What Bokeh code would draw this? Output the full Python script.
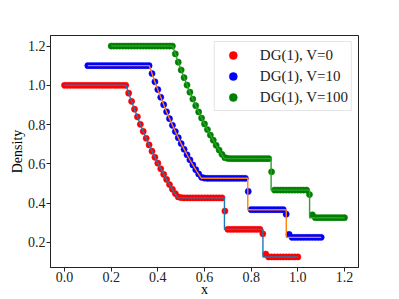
from bokeh.plotting import figure
from bokeh.models import FixedTicker, Legend, LegendItem, Range1d
from bokeh.embed import file_html
from bokeh.resources import INLINE

# ---- numerical solution points (DG(1)) ----
x_v0 = [0.0, 0.0125, 0.025, 0.0375, 0.05, 0.0625, 0.075, 0.0875, 0.1,
        0.1125, 0.125, 0.1375, 0.15, 0.1625, 0.175, 0.1875, 0.2, 0.2125,
        0.225, 0.2375, 0.25, 0.2625, 0.275, 0.2875, 0.3, 0.3125, 0.325,
        0.3375, 0.35, 0.3625, 0.375, 0.3875, 0.4, 0.4125, 0.425, 0.4375,
        0.45, 0.4625, 0.475, 0.4875, 0.5, 0.5125, 0.525, 0.5375, 0.55,
        0.5625, 0.575, 0.5875, 0.6, 0.6125, 0.625, 0.6375, 0.65, 0.6625,
        0.675, 0.6875, 0.7, 0.7125, 0.725, 0.7375, 0.75, 0.7625, 0.775,
        0.7875, 0.8, 0.8125, 0.825, 0.8375, 0.85, 0.8625, 0.875, 0.8875,
        0.9, 0.9125, 0.925, 0.9375, 0.95, 0.9625, 0.975, 0.9875, 1.0]
rho_v0 = [1.0, 1.0, 1.0, 1.0, 1.0, 1.0, 1.0, 1.0, 1.0,
          1.0, 1.0, 1.0, 1.0, 1.0, 1.0, 1.0, 1.0, 1.0,
          1.0, 1.0, 1.0, 1.0, 0.960, 0.918, 0.878, 0.839, 0.801,
          0.765, 0.730, 0.696, 0.664, 0.633, 0.603, 0.574, 0.546, 0.520,
          0.494, 0.470, 0.448, 0.431, 0.427, 0.426, 0.426, 0.426, 0.426,
          0.426, 0.426, 0.426, 0.426, 0.426, 0.426, 0.426, 0.426, 0.426,
          0.426, 0.359, 0.266, 0.266, 0.266, 0.266, 0.266, 0.266, 0.266,
          0.266, 0.266, 0.266, 0.266, 0.266, 0.243, 0.140, 0.125, 0.125,
          0.125, 0.125, 0.125, 0.125, 0.125, 0.125, 0.125, 0.125, 0.125]

x_v10 = [0.1, 0.1125, 0.125, 0.1375, 0.15, 0.1625, 0.175, 0.1875, 0.2,
         0.2125, 0.225, 0.2375, 0.25, 0.2625, 0.275, 0.2875, 0.3, 0.3125,
         0.325, 0.3375, 0.35, 0.3625, 0.375, 0.3875, 0.4, 0.4125, 0.425,
         0.4375, 0.45, 0.4625, 0.475, 0.4875, 0.5, 0.5125, 0.525, 0.5375,
         0.55, 0.5625, 0.575, 0.5875, 0.6, 0.6125, 0.625, 0.6375, 0.65,
         0.6625, 0.675, 0.6875, 0.7, 0.7125, 0.725, 0.7375, 0.75, 0.7625,
         0.775, 0.7875, 0.8, 0.8125, 0.825, 0.8375, 0.85, 0.8625, 0.875,
         0.8875, 0.9, 0.9125, 0.925, 0.9375, 0.95, 0.9625, 0.975, 0.9875,
         1.0, 1.0125, 1.025, 1.0375, 1.05, 1.0625, 1.075, 1.0875, 1.1]
rho_v10 = [1.1, 1.1, 1.1, 1.1, 1.1, 1.1, 1.1, 1.1, 1.1,
           1.1, 1.1, 1.1, 1.1, 1.1, 1.1, 1.1, 1.1, 1.1,
           1.1, 1.1, 1.1, 1.1, 1.060, 1.018, 0.978, 0.939, 0.901,
           0.865, 0.830, 0.796, 0.764, 0.733, 0.703, 0.674, 0.646, 0.620,
           0.594, 0.570, 0.548, 0.531, 0.527, 0.526, 0.526, 0.526, 0.526,
           0.526, 0.526, 0.526, 0.526, 0.526, 0.526, 0.526, 0.526, 0.526,
           0.526, 0.459, 0.366, 0.366, 0.366, 0.366, 0.366, 0.366, 0.366,
           0.366, 0.366, 0.366, 0.366, 0.366, 0.343, 0.240, 0.225, 0.225,
           0.225, 0.225, 0.225, 0.225, 0.225, 0.225, 0.225, 0.225, 0.225]

x_v100 = [0.2, 0.2125, 0.225, 0.2375, 0.25, 0.2625, 0.275, 0.2875, 0.3,
          0.3125, 0.325, 0.3375, 0.35, 0.3625, 0.375, 0.3875, 0.4, 0.4125,
          0.425, 0.4375, 0.45, 0.4625, 0.475, 0.4875, 0.5, 0.5125, 0.525,
          0.5375, 0.55, 0.5625, 0.575, 0.5875, 0.6, 0.6125, 0.625, 0.6375,
          0.65, 0.6625, 0.675, 0.6875, 0.7, 0.7125, 0.725, 0.7375, 0.75,
          0.7625, 0.775, 0.7875, 0.8, 0.8125, 0.825, 0.8375, 0.85, 0.8625,
          0.875, 0.8875, 0.9, 0.9125, 0.925, 0.9375, 0.95, 0.9625, 0.975,
          0.9875, 1.0, 1.0125, 1.025, 1.0375, 1.05, 1.0625, 1.075, 1.0875,
          1.1, 1.1125, 1.125, 1.1375, 1.15, 1.1625, 1.175, 1.1875, 1.2]
rho_v100 = [1.2, 1.2, 1.2, 1.2, 1.2, 1.2, 1.2, 1.2, 1.2,
            1.2, 1.2, 1.2, 1.2, 1.2, 1.2, 1.2, 1.2, 1.2,
            1.2, 1.2, 1.2, 1.2, 1.160, 1.118, 1.078, 1.039, 1.001,
            0.965, 0.930, 0.896, 0.864, 0.833, 0.803, 0.774, 0.746, 0.720,
            0.694, 0.670, 0.648, 0.631, 0.627, 0.626, 0.626, 0.626, 0.626,
            0.626, 0.626, 0.626, 0.626, 0.626, 0.626, 0.626, 0.626, 0.626,
            0.626, 0.559, 0.466, 0.466, 0.466, 0.466, 0.466, 0.466, 0.466,
            0.466, 0.466, 0.466, 0.466, 0.466, 0.443, 0.340, 0.325, 0.325,
            0.325, 0.325, 0.325, 0.325, 0.325, 0.325, 0.325, 0.325, 0.325]

# ---- exact solution lines ----
xe_v0 = [0.0, 0.2634, 0.28, 0.30, 0.33, 0.35, 0.38, 0.40, 0.43, 0.45, 0.47, 0.486,
         0.6855, 0.6855, 0.8504, 0.8504, 1.0]
re_v0 = [1.0, 1.0, 0.9427, 0.8775, 0.7863, 0.7299, 0.6514, 0.6029, 0.5357, 0.4943, 0.4555, 0.4263,
         0.4263, 0.2656, 0.2656, 0.125, 0.125]
xe_v10 = [0.1, 0.3634, 0.38, 0.40, 0.43, 0.45, 0.48, 0.50, 0.53, 0.55, 0.57, 0.586,
          0.7855, 0.7855, 0.9504, 0.9504, 1.1]
re_v10 = [1.1, 1.1, 1.0427, 0.9775, 0.8863, 0.8299, 0.7514, 0.7029, 0.6357, 0.5943, 0.5555, 0.5263,
          0.5263, 0.3656, 0.3656, 0.225, 0.225]
xe_v100 = [0.2, 0.4634, 0.48, 0.50, 0.53, 0.55, 0.58, 0.60, 0.63, 0.65, 0.67, 0.686,
           0.8855, 0.8855, 1.0504, 1.0504, 1.2]
re_v100 = [1.2, 1.2, 1.1427, 1.0775, 0.9863, 0.9299, 0.8514, 0.8029, 0.7357, 0.6943, 0.6555, 0.6263,
           0.6263, 0.4656, 0.4656, 0.325, 0.325]

labels = ["DG(1), V=0", "DG(1), V=10", "DG(1), V=100"]
x_ticks = [0.0, 0.2, 0.4, 0.6, 0.8, 1.0, 1.2]
y_ticks = [0.2, 0.4, 0.6, 0.8, 1.0, 1.2]

FONT = "Liberation Serif"

p = figure(width=399, height=299, output_backend="svg", toolbar_location=None,
           x_range=Range1d(-0.06, 1.26), y_range=Range1d(0.07125, 1.25375),
           min_border_left=50, min_border_right=41, min_border_top=35, min_border_bottom=32)
p.background_fill_color = "white"
p.border_fill_color = "white"
p.outline_line_color = "#222222"
p.outline_line_width = 1
p.xgrid.visible = False
p.ygrid.visible = False

dot_colors = ["#ff0000", "#0000ff", "#008000"]
line_colors = ["#1f77b4", "#ff7f0e", "#2ca02c"]
dots = [(x_v0, rho_v0), (x_v10, rho_v10), (x_v100, rho_v100)]
lines = [(xe_v0, re_v0), (xe_v10, re_v10), (xe_v100, re_v100)]

items = []
for (xs, ys), (xl, yl), dc, lc, lab in zip(dots, lines, dot_colors, line_colors, labels):
    r = p.scatter(xs, ys, size=6.2, fill_color=dc, line_color=dc, line_width=0.5)
    p.line(xl, yl, line_color=lc, line_width=1.4)
    items.append(LegendItem(label=lab, renderers=[r]))

for ax, ticks, lab in [(p.xaxis, x_ticks, "x"), (p.yaxis, y_ticks, "Density")]:
    ax.ticker = FixedTicker(ticks=ticks)
    ax.major_label_overrides = {t: f"{t:.1f}" for t in ticks}
    ax.axis_label = lab
    ax.axis_label_text_font = FONT
    ax.axis_label_text_font_style = "normal"
    ax.axis_label_text_font_size = "14px"
    ax.axis_label_text_color = "black"
    ax.major_label_text_font = FONT
    ax.major_label_text_font_size = "14px"
    ax.major_label_text_color = "#222222"
    ax.major_tick_in = 0
    ax.major_tick_out = 4
    ax.minor_tick_in = 0
    ax.minor_tick_out = 0
    ax.axis_line_color = "#222222"
    ax.major_tick_line_color = "#222222"

p.xaxis.major_label_standoff = 0
p.xaxis.axis_label_standoff = -3
p.yaxis.major_label_standoff = 1
p.yaxis.axis_label_standoff = 0

legend = Legend(items=items, location="top_right")
legend.label_text_font = FONT
legend.label_text_font_size = "15px"
legend.label_text_color = "#222222"
legend.glyph_width = 30
legend.glyph_height = 20
legend.label_height = 20
legend.label_standoff = 12
legend.padding = 3
legend.spacing = 1
legend.margin = 6
legend.border_line_color = "#cccccc"
legend.background_fill_alpha = 0.8
p.add_layout(legend)

open("out.html", "w").write(file_html(p, INLINE))
